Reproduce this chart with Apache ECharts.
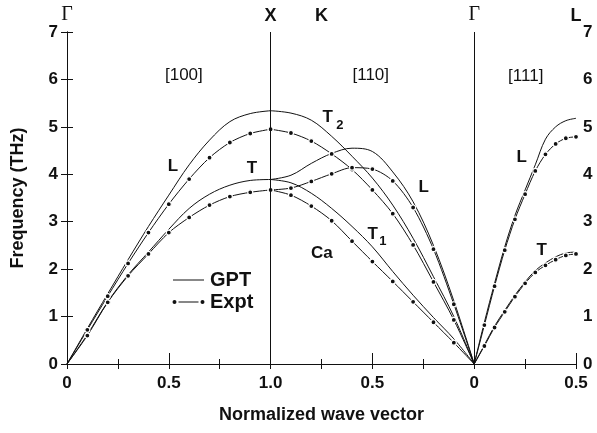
<!DOCTYPE html>
<html>
<head>
<meta charset="utf-8">
<script src="https://cdn.jsdelivr.net/npm/echarts@6/dist/echarts.min.js"></script>
<style>
  html, body { margin: 0; background: #fff; }
  #chart { width: 597px; height: 433px; }
</style>
</head>
<body>
<div id="chart"></div>
<script>
  // [100]  Gamma -> X
  const q100 = [0, 0.1, 0.2, 0.3, 0.4, 0.5, 0.6, 0.7, 0.8, 0.9, 1.0];
  const gptL100 = [0, 0.75, 1.48, 2.20, 2.90, 3.56, 4.20, 4.72, 5.11, 5.28, 5.34];
  const gptT100 = [0, 0.62, 1.31, 1.88, 2.36, 2.84, 3.28, 3.58, 3.77, 3.87, 3.89];
  const exptL100 = [0, 0.72, 1.43, 2.12, 2.77, 3.37, 3.90, 4.35, 4.67, 4.86, 4.95];
  const exptT100 = [0, 0.60, 1.30, 1.86, 2.32, 2.77, 3.09, 3.35, 3.53, 3.62, 3.67];

  // [110]  X -> K -> Gamma
  const q110 = [1.0, 0.9, 0.8, 0.7, 0.6, 0.5, 0.4, 0.3, 0.2, 0.1, 0];
  const gptT2_110 = [5.34, 5.29, 5.14, 4.80, 4.38, 3.92, 3.35, 2.65, 1.84, 1.00, 0];
  const gptL110 = [3.89, 3.98, 4.23, 4.44, 4.55, 4.48, 4.05, 3.42, 2.50, 1.33, 0];
  const gptT1_110 = [3.89, 3.82, 3.60, 3.28, 2.90, 2.47, 1.95, 1.45, 0.98, 0.53, 0];
  const exptT2_110 = [4.95, 4.87, 4.70, 4.43, 4.10, 3.67, 3.17, 2.51, 1.73, 0.93, 0];
  const exptL110 = [3.67, 3.71, 3.85, 4.01, 4.14, 4.11, 3.86, 3.30, 2.42, 1.26, 0];
  const exptT1_110 = [3.67, 3.56, 3.33, 3.02, 2.59, 2.16, 1.74, 1.31, 0.88, 0.45, 0];

  // [111]  Gamma -> L
  const q111 = [0, 0.05, 0.1, 0.15, 0.2, 0.25, 0.3, 0.35, 0.4, 0.45, 0.5];
  const gptL111 = [0, 0.88, 1.70, 2.47, 3.13, 3.67, 4.20, 4.74, 5.00, 5.13, 5.18];
  const gptT111 = [0, 0.40, 0.80, 1.13, 1.45, 1.73, 1.97, 2.13, 2.26, 2.34, 2.36];
  const exptL111 = [0, 0.82, 1.64, 2.40, 3.05, 3.58, 4.07, 4.42, 4.64, 4.76, 4.79];
  const exptT111 = [0, 0.38, 0.77, 1.10, 1.42, 1.70, 1.93, 2.08, 2.20, 2.29, 2.32];

  // tick labels along the joined wave-vector axis
  const bottomTickPos = [0, 0.5, 1, 1.5, 2, 2.5];
  const bottomTickText = ['0', '0.5', '1.0', '0.5', '0', '0.5'];
  const topTickPos = [0, 1, 1.25, 2, 2.5];
  const topTickText = ['Γ', 'X', 'K', 'Γ', 'L'];
  const panelEdges = [1, 2];

  // text placed on the plot: [position, frequency, text, style]
  const notes = [
    [0.574, 6.09, '[100]', 'dir'],
    [1.492, 6.09, '[110]', 'dir'],
    [2.253, 6.07, '[111]', 'dir'],
    [0.52, 4.17, 'L', 'b'],
    [0.908, 4.13, 'T', 'b'],
    [1.281, 5.21, 'T', 'b'],
    [1.340, 5.04, '2', 'sub'],
    [1.752, 3.73, 'L', 'b'],
    [1.502, 2.74, 'T', 'b'],
    [1.551, 2.59, '1', 'sub'],
    [1.252, 2.34, 'Ca', 'b'],
    [2.233, 4.36, 'L', 'b'],
    [2.331, 2.40, 'T', 'b']
  ];

  const font = '"Liberation Sans", Arial, sans-serif';
  const ink = '#111';

  const toPos = {
    '100': q => q,
    '110': q => 2 - q,
    '111': q => 2 + q
  };

  const gptBranches = [
    ['100', q100, gptL100], ['100', q100, gptT100],
    ['110', q110, gptT2_110], ['110', q110, gptL110], ['110', q110, gptT1_110],
    ['111', q111, gptL111], ['111', q111, gptT111]
  ];
  const exptBranches = [
    ['100', q100, exptL100], ['100', q100, exptT100],
    ['110', q110, exptT2_110], ['110', q110, exptL110], ['110', q110, exptT1_110],
    ['111', q111, exptL111], ['111', q111, exptT111]
  ];

  function pick(pos, texts, v) {
    const i = pos.findIndex(p => Math.abs(p - v) < 1e-6);
    return i < 0 ? '' : texts[i];
  }

  function points(seg, qs, vals) {
    return qs.map((q, i) => [toPos[seg](q), vals[i]]);
  }

  const series = [];
  gptBranches.forEach(([seg, qs, vals]) => {
    series.push({
      name: 'GPT',
      type: 'line',
      data: points(seg, qs, vals),
      smooth: 0.35,
      symbol: 'none',
      itemStyle: { color: ink },
      lineStyle: { color: ink, width: 1 },
      z: 2
    });
  });
  exptBranches.forEach(([seg, qs, vals]) => {
    series.push({
      name: 'Expt',
      type: 'line',
      data: points(seg, qs, vals),
      smooth: 0.3,
      symbol: v => (v[1] === 0 ? 'none' : 'circle'),
      symbolSize: 5,
      itemStyle: { color: ink, borderColor: '#fff', borderWidth: 1.2 },
      lineStyle: { color: ink, width: 1 },
      z: 3
    });
  });

  // vertical lines at X and Gamma
  series[0].markLine = {
    silent: true,
    symbol: 'none',
    label: { show: false },
    lineStyle: { color: ink, width: 1, type: 'solid' },
    data: panelEdges.map(x => ({ xAxis: x }))
  };

  series.push({
    name: 'notes',
    type: 'scatter',
    symbolSize: 0,
    silent: true,
    z: 5,
    itemStyle: { opacity: 1 },
    data: notes.map(n => ({ value: [n[0], n[1]], name: n[2], style: n[3] })),
    label: {
      show: true,
      position: 'inside',
      color: ink,
      opacity: 1,
      textBorderWidth: 0,
      formatter: p => '{' + p.data.style + '|' + p.data.name + '}',
      rich: {
        dir: { fontFamily: font, fontSize: 17, color: ink },
        b: { fontFamily: font, fontSize: 17, fontWeight: 'bold', color: ink },
        sub: { fontFamily: font, fontSize: 13, fontWeight: 'bold', color: ink }
      }
    }
  });

  const boxMove = 'M0,0M33,7';
  const gptIcon = 'path://' + boxMove + 'M1,3L32,3L32,4L1,4Z';
  const exptIcon = 'path://' + boxMove +
    'M0.5,3.5A2,2,0,1,1,4.5,3.5A2,2,0,1,1,0.5,3.5Z' +
    'M28.5,3.5A2,2,0,1,1,32.5,3.5A2,2,0,1,1,28.5,3.5Z' +
    'M6.5,3L26.5,3L26.5,4L6.5,4Z';

  const chart = echarts.init(document.getElementById('chart'));
  chart.setOption({
    animation: false,
    backgroundColor: '#fff',
    textStyle: { fontFamily: font },
    grid: { left: 67, right: 21, top: 32, bottom: 69 },
    legend: {
      orient: 'vertical',
      left: 167,
      top: 265,
      itemWidth: 33,
      itemHeight: 7,
      itemGap: 2,
      selectedMode: false,
      itemStyle: { borderWidth: 0 },
      textStyle: { fontFamily: font, fontSize: 20, fontWeight: 'bold', color: ink },
      data: [
        { name: 'GPT', icon: gptIcon },
        { name: 'Expt', icon: exptIcon }
      ]
    },
    xAxis: [
      {
        type: 'value',
        position: 'bottom',
        min: 0,
        max: 2.5,
        interval: 0.5,
        name: 'Normalized wave vector',
        nameLocation: 'middle',
        nameGap: 42,
        nameTextStyle: { fontFamily: font, fontSize: 18, fontWeight: 'bold', color: ink },
        axisLine: { lineStyle: { color: ink, width: 1 } },
        axisTick: { inside: true, length: 11, lineStyle: { color: ink } },
        minorTick: { show: true, splitNumber: 2, length: 5, lineStyle: { color: ink } },
        splitLine: { show: false },
        axisLabel: {
          margin: 11,
          fontFamily: font,
          fontSize: 17,
          fontWeight: 'bold',
          color: ink,
          formatter: v => pick(bottomTickPos, bottomTickText, v)
        }
      },
      {
        type: 'value',
        position: 'top',
        min: 0,
        max: 2.5,
        interval: 0.25,
        axisLine: { lineStyle: { color: ink, width: 1 } },
        axisTick: { inside: true, length: 5, lineStyle: { color: ink } },
        splitLine: { show: false },
        axisLabel: {
          margin: 7,
          formatter: v => {
            const t = pick(topTickPos, topTickText, v);
            if (!t) return '';
            return t === 'Γ' ? '{g|Γ}' : '{s|' + t + '}';
          },
          rich: {
            g: { fontFamily: '"Liberation Serif", "DejaVu Serif", serif', fontSize: 20, color: ink },
            s: { fontFamily: font, fontSize: 18, fontWeight: 'bold', color: ink }
          }
        }
      }
    ],
    yAxis: [
      {
        type: 'value',
        position: 'left',
        min: 0,
        max: 7,
        interval: 1,
        name: 'Frequency (THz)',
        nameLocation: 'middle',
        nameGap: 40,
        nameTextStyle: { fontFamily: font, fontSize: 18, fontWeight: 'bold', color: ink },
        axisLine: { show: true, lineStyle: { color: ink, width: 1 } },
        axisTick: { show: true, inside: true, length: 6, lineStyle: { color: ink } },
        splitLine: { show: false },
        axisLabel: { margin: 9, fontFamily: font, fontSize: 17, fontWeight: 'bold', color: ink }
      },
      {
        type: 'value',
        position: 'right',
        min: 0,
        max: 7,
        interval: 1,
        axisLine: { show: true, lineStyle: { color: ink, width: 1 } },
        axisTick: { show: true, inside: true, length: 6, lineStyle: { color: ink } },
        splitLine: { show: false },
        axisLabel: { margin: 7, fontFamily: font, fontSize: 17, fontWeight: 'bold', color: ink }
      }
    ],
    series
  });
</script>
</body>
</html>
